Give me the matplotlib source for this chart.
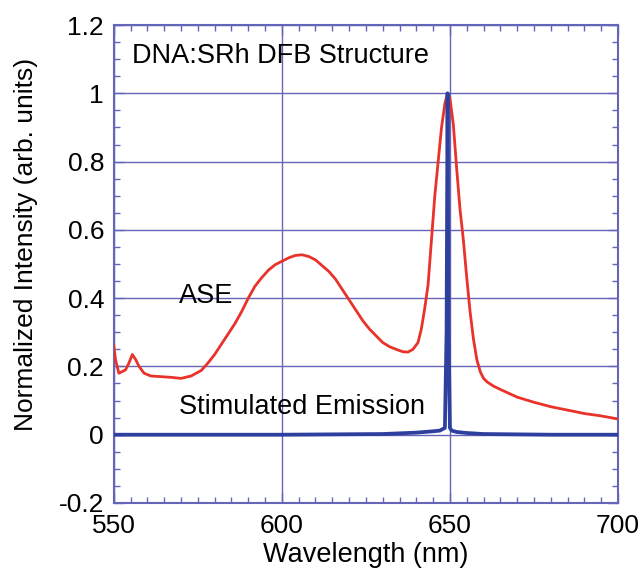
import matplotlib
matplotlib.use('Agg')
from matplotlib import pyplot as plt
from matplotlib.ticker import MultipleLocator

# ASE spectrum (red)
ase_wl = [550, 550.5, 551.5, 552.5, 553.5, 554.5, 555.5, 556.5, 557.5, 559, 561,
          564, 567, 570, 573, 576, 578, 580, 582, 584, 586, 588, 590, 592, 594,
          596, 598, 600, 602, 604, 606, 608, 610, 612, 614, 616, 618, 620, 622,
          624, 626, 628, 630, 632, 634, 636, 637.5, 639, 640.5, 641.5, 642.5,
          643.5, 644.5, 645.5, 646.5, 647.5, 648.5, 649.3, 650, 651, 652, 653,
          654, 655, 656, 657, 658, 659, 660, 661, 663, 666, 670, 675, 680, 685,
          690, 695, 700]
ase_int = [0.26, 0.22, 0.18, 0.185, 0.19, 0.21, 0.235, 0.22, 0.20, 0.18, 0.172,
           0.17, 0.168, 0.165, 0.172, 0.188, 0.21, 0.235, 0.265, 0.295, 0.325,
           0.36, 0.40, 0.435, 0.46, 0.482, 0.498, 0.508, 0.518, 0.525, 0.527,
           0.522, 0.512, 0.495, 0.478, 0.455, 0.425, 0.395, 0.365, 0.335, 0.31,
           0.29, 0.27, 0.258, 0.25, 0.243, 0.242, 0.25, 0.27, 0.31, 0.37, 0.44,
           0.57, 0.70, 0.80, 0.90, 0.97, 1.0, 0.985, 0.91, 0.78, 0.66, 0.57,
           0.46, 0.36, 0.28, 0.22, 0.185, 0.165, 0.155, 0.142, 0.128, 0.11,
           0.095, 0.082, 0.072, 0.062, 0.055, 0.046]

# stimulated emission (blue)
se_wl = [550, 600, 630, 640, 645, 647, 648.5, 649, 649.3, 649.6, 650, 650.5,
         652, 655, 660, 680, 700]
se_int = [0, 0, 0.002, 0.006, 0.01, 0.012, 0.02, 0.3, 1.0, 0.3, 0.02, 0.012,
          0.008, 0.005, 0.002, 0, 0]

plt.rcParams['font.family'] = ['Liberation Sans', 'DejaVu Sans']

fig = plt.figure(figsize=(6.42, 5.78), dpi=100)
ax = fig.add_axes([0.1773, 0.1298, 0.7853, 0.8269])

grid_col = '#6464b8'
ax.plot(ase_wl, ase_int, color='#e8322a', lw=2, zorder=3)
ax.plot(se_wl, se_int, color='#2f3f9e', lw=2.7, zorder=4)

ax.set_xlim(550, 700)
ax.set_ylim(-0.2, 1.2)
ax.xaxis.set_minor_locator(MultipleLocator(5))
ax.yaxis.set_minor_locator(MultipleLocator(0.05))
ax.set_xticks([550, 600, 650, 700])
ax.set_xticklabels(['550', '600', '650', '700'])
ax.set_yticks([-0.2, 0, 0.2, 0.4, 0.6, 0.8, 1.0, 1.2])
ax.set_yticklabels(['-0.2', '0', '0.2', '0.4', '0.6', '0.8', '1', '1.2'])
ax.grid(True, which='major', color=grid_col, lw=1, zorder=1)

ax.tick_params(which='both', direction='in', top=True, right=True,
               color=grid_col, labelsize=19)
ax.tick_params(which='major', length=7, width=1)
ax.tick_params(which='minor', length=4, width=1)
ax.tick_params(axis='x', which='major', pad=8)
ax.tick_params(axis='y', which='major', pad=7)
for s in ax.spines.values():
    s.set_color(grid_col)
    s.set_linewidth(1.5)

ax.set_xlabel('Wavelength (nm)', fontsize=19.5, labelpad=3)
ax.set_ylabel('Normalized Intensity (arb. units)', fontsize=19)
ax.yaxis.set_label_coords(-0.15, 0.54)

ax.text(555.5, 1.11, 'DNA:SRh DFB Structure', fontsize=19.5, va='center')
ax.text(569.5, 0.405, 'ASE', fontsize=19.5, va='center')
ax.text(569.5, 0.08, 'Stimulated Emission', fontsize=19.5, va='center')

fig.savefig('out.png', dpi=100)
